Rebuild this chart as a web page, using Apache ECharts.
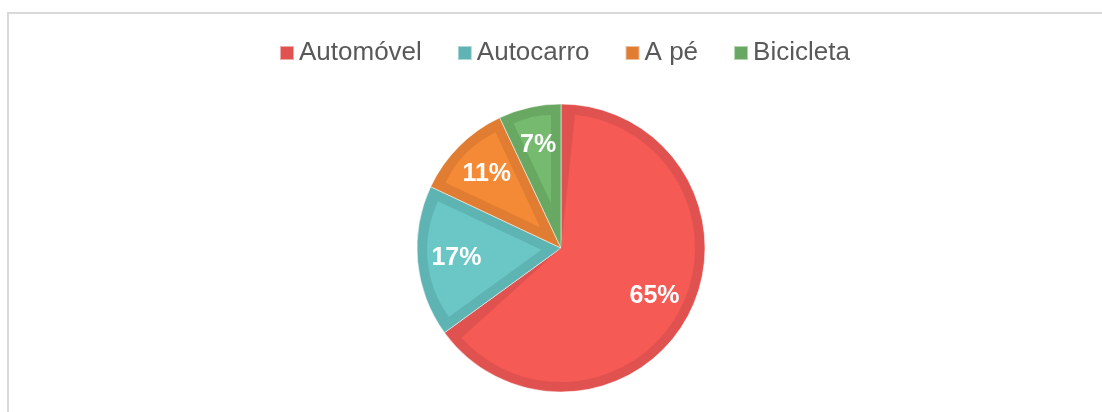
<!DOCTYPE html>
<html>
<head>
<meta charset="utf-8">
<script src="https://cdn.jsdelivr.net/npm/echarts@6/dist/echarts.min.js"></script>
<style>
  html, body { margin: 0; padding: 0; background: #ffffff; }
  #wrap { position: relative; width: 1102px; height: 412px; overflow: hidden; background: #fff; }
  #frame { position: absolute; left: 7px; top: 12px; width: 1200px; height: 500px;
           border-top: 2px solid #d9d9d9; border-left: 2px solid #d9d9d9; box-sizing: border-box; }
  #chart { position: absolute; left: 0; top: 0; width: 1102px; height: 412px; }
</style>
</head>
<body>
<div id="wrap">
  <div id="frame"></div>
  <div id="chart"></div>
</div>
<script>
// ---- data ----
const categories = ['Automóvel', 'Autocarro', 'A pé', 'Bicicleta'];
const shares = [65, 17, 11, 7];
const labelTexts = ['65%', '17%', '11%', '7%'];
const lightColors = ['#F55A55', '#6AC7C5', '#F58A36', '#75BA6E'];
const darkColors = ['#E05250', '#5EB3B3', '#E07D32', '#68A862'];

// ---- layout / style constants ----
const CX = 561, CY = 248, R = 144, BAND = 10;
const FONT = 'Liberation Sans, Arial, sans-serif';

const chart = echarts.init(document.getElementById('chart'), null, { renderer: 'canvas' });

const total = shares.reduce((a, b) => a + b, 0);
const series = [];

// outer dark pie (the slice borders)
series.push({
  type: 'pie', center: [CX, CY], radius: [0, R], startAngle: 90, clockwise: true, silent: true,
  label: { show: false }, labelLine: { show: false },
  itemStyle: { borderColor: 'rgba(255,255,255,0.5)', borderWidth: 1 },
  data: categories.map((c, i) => ({ name: c, value: shares[i], itemStyle: { color: darkColors[i] } }))
});

// inner light fill, one series per slice, inset by BAND from each edge
let cum = 0;
categories.forEach((c, i) => {
  const theta = shares[i] / total * Math.PI * 2;
  const mid = (cum + shares[i] / 2) / total * Math.PI * 2;
  cum += shares[i];
  const data = categories.map((cc, j) => ({
    name: cc, value: shares[j],
    itemStyle: { color: j === i ? lightColors[i] : 'rgba(0,0,0,0)' }
  }));
  let center = [CX, CY], radius = [0, R - BAND], padAngle = 0;
  if (theta < Math.PI * 0.9) {
    const s = BAND / Math.sin(theta / 2);
    center = [CX + s * Math.sin(mid), CY - s * Math.cos(mid)];
    radius = [0, R - BAND - s];
  } else {
    padAngle = 12;
  }
  series.push({
    type: 'pie', center: center, radius: radius, startAngle: 90, clockwise: true, silent: true,
    padAngle: padAngle,
    label: { show: false }, labelLine: { show: false },
    data: data
  });
});

// labels
series.push({
  type: 'pie', center: [CX, CY], radius: [60, R], startAngle: 90, clockwise: true, silent: true,
  itemStyle: { color: 'rgba(0,0,0,0)' },
  label: { show: true, position: 'inside', color: '#ffffff', fontSize: 25, fontWeight: 'bold', fontFamily: FONT },
  labelLine: { show: false },
  data: categories.map((c, i) => ({ name: c, value: shares[i], label: { formatter: labelTexts[i] } }))
});

chart.setOption({
  backgroundColor: 'transparent',
  animation: false,
  legend: {
    data: categories.map((c, i) => ({ name: c, itemStyle: { color: darkColors[i] } })),
    top: 35,
    left: 274,
    icon: 'rect',
    itemWidth: 14,
    itemHeight: 14,
    itemGap: 35,
    textStyle: { color: '#595959', fontSize: 26, fontFamily: FONT },
    selectedMode: false
  },
  series: series
});
</script>
</body>
</html>
